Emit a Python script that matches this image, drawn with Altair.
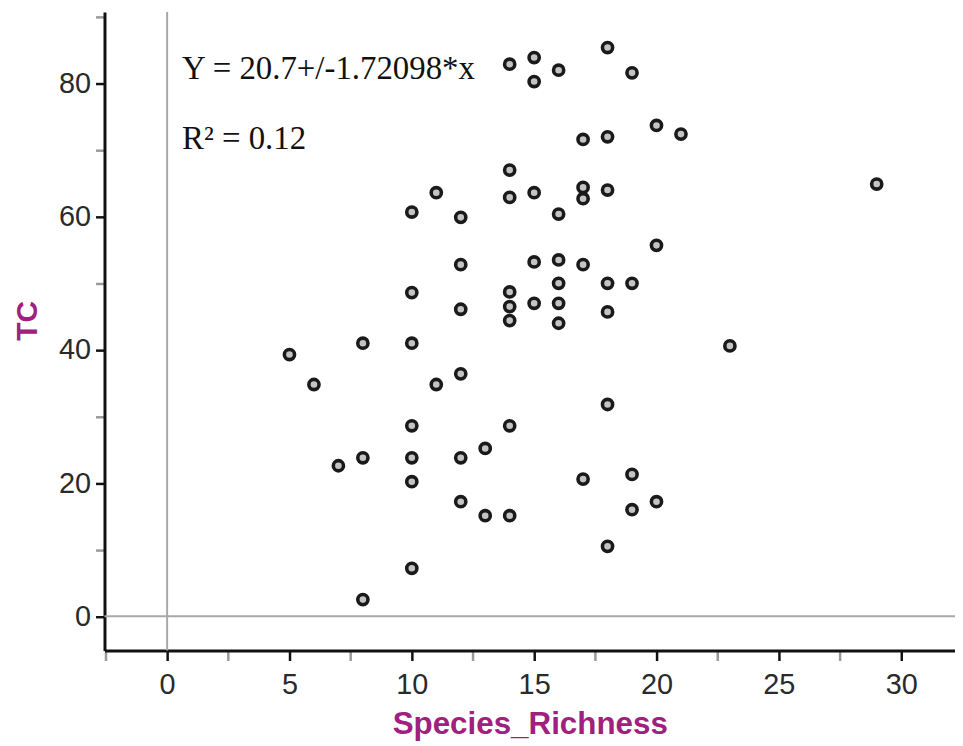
import altair as alt
import pandas as pd

# ---- data ----
species_richness = [5, 6, 7,
                    8, 8, 8,
                    10, 10, 10, 10, 10, 10, 10,
                    11, 11,
                    12, 12, 12, 12, 12, 12,
                    13, 13,
                    14, 14, 14, 14, 14, 14, 14, 14,
                    15, 15, 15, 15, 15,
                    16, 16, 16, 16, 16, 16,
                    17, 17, 17, 17, 17,
                    18, 18, 18, 18, 18, 18, 18,
                    19, 19, 19, 19,
                    20, 20, 20,
                    21, 23, 29]
tc = [39.3, 34.8, 22.6,
      23.8, 41.0, 2.5,
      60.7, 48.6, 41.0, 28.6, 23.8, 20.2, 7.2,
      63.6, 34.8,
      59.9, 52.8, 46.1, 36.4, 23.8, 17.2,
      25.2, 15.1,
      82.9, 67.0, 62.9, 48.7, 46.5, 44.4, 28.6, 15.1,
      83.9, 80.3, 63.6, 53.2, 47.0,
      82.0, 60.4, 53.5, 50.0, 47.0, 44.0,
      71.6, 64.4, 62.7, 52.8, 20.6,
      85.4, 72.0, 64.0, 50.0, 45.7, 31.8, 10.5,
      81.6, 50.0, 21.3, 16.0,
      73.7, 55.7, 17.2,
      72.4, 40.6, 64.9]

ann_text = ["Y = 20.7+/-1.72098*x", "R\u00b2 = 0.12"]
ann_x = [0.61, 0.61]
ann_y = [80.7, 70.1]

zero_x = [0]
zero_y = [0]

x_ticks = [-2.5, 0, 2.5, 5, 7.5, 10, 12.5, 15, 17.5, 20, 22.5, 25, 27.5, 30]
y_ticks = [0, 10, 20, 30, 40, 50, 60, 70, 80, 90]
x_domain = [-2.56, 32.2]
y_domain = [-5.15, 90.75]

# ---- tables ----
pts = pd.DataFrame({"Species_Richness": species_richness, "TC": tc})
ann = pd.DataFrame({"Species_Richness": ann_x, "TC": ann_y, "label": ann_text})
zx = pd.DataFrame({"Species_Richness": zero_x})
zy = pd.DataFrame({"TC": zero_y})

title_color = "#a0207e"
label_color = "#2a2a2a"

xscale = alt.Scale(domain=x_domain, nice=False, zero=False)
yscale = alt.Scale(domain=y_domain, nice=False, zero=False)

x_axis = alt.Axis(
    values=x_ticks,
    labelExpr="datum.value % 5 === 0 ? '' + datum.value : ''",
    grid=False,
    domainColor="#111111", domainWidth=3,
    tickColor={"condition": {"test": "datum.value % 5 !== 0", "value": "#9a9a9a"}, "value": "#111111"},
    tickWidth=2.5, tickSize=10,
    labelFont="Liberation Sans", labelFontSize=29, labelColor=label_color,
    labelPadding=10, labelOverlap=False, labelFlush=False,
    title="Species_Richness", titleFont="Liberation Sans", titleFontSize=31.5,
    titleFontWeight="bold", titleColor=title_color,
    titleY=83, titleBaseline="alphabetic",
)
y_axis = alt.Axis(
    values=y_ticks,
    labelExpr="datum.value % 20 === 0 ? '' + datum.value : ''",
    grid=False,
    domainColor="#111111", domainWidth=3,
    tickColor={"condition": {"test": "datum.value % 20 !== 0", "value": "#9a9a9a"}, "value": "#111111"},
    tickWidth=2.5, tickSize=9,
    labelFont="Liberation Sans", labelFontSize=29, labelColor=label_color,
    labelPadding=5, labelOverlap=False, labelFlush=False,
    title="TC", titleFont="Liberation Sans", titleFontSize=30,
    titleFontWeight="bold", titleColor=title_color,
    titleAngle=270, titleX=-68, titleY=310, titleAlign="center",
    titleBaseline="alphabetic",
)

X = alt.X("Species_Richness:Q", scale=xscale, axis=x_axis)
Y = alt.Y("TC:Q", scale=yscale, axis=y_axis)

rule_x = alt.Chart(zx).mark_rule(color="#a8a8a8", strokeWidth=2).encode(x=X)
rule_y = alt.Chart(zy).mark_rule(color="#a8a8a8", strokeWidth=2).encode(y=Y)

points = alt.Chart(pts).mark_point(
    shape="circle", filled=True, fill="#c4c4c4", stroke="#1a1a1a",
    strokeWidth=3.6, size=105, opacity=1
).encode(x=X, y=Y)

text = alt.Chart(ann).mark_text(
    align="left", baseline="alphabetic", font="Liberation Serif",
    fontSize=33, color="#111111"
).encode(x=X, y=Y, text="label:N")

chart = alt.layer(points, rule_x, rule_y, text).properties(
    width=855,
    height=642,
    padding={"left": 97, "top": 2, "right": 0, "bottom": 92},
    autosize=alt.AutoSizeParams(type="none"),
    background="white",
).configure_view(stroke=None)

chart.save("out.html", embed_options={"renderer": "svg", "actions": False})
